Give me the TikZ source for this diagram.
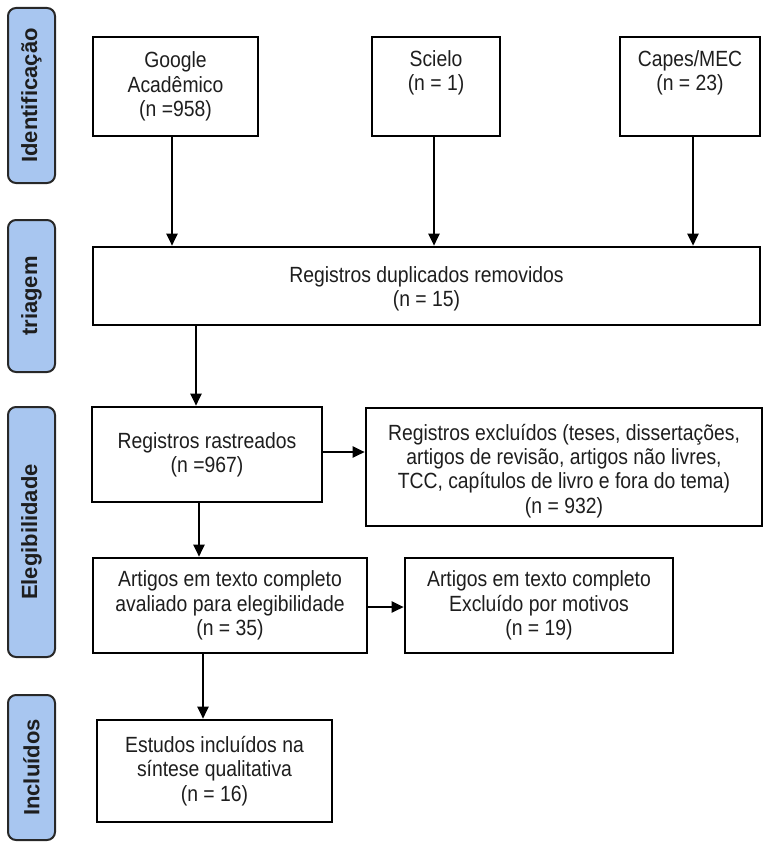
\documentclass[tikz,border=0pt]{standalone}
\usepackage{fontspec}
\setmainfont{Liberation Sans}
\newfontfamily\bodyf{Liberation Sans}[FakeStretch=0.88]
\usetikzlibrary{arrows.meta}
\definecolor{sideblue}{RGB}{168,198,240}
\definecolor{sideline}{RGB}{40,40,40}
\definecolor{txt}{RGB}{30,30,30}
\begin{document}
\begin{tikzpicture}[x=1pt,y=-1pt,
  box/.style={draw=black,line width=2.6pt,fill=white,inner sep=0pt,align=center,text=txt,font=\bodyf\fontsize{22}{24.3}\selectfont},
  side/.style={draw=sideline,line width=2pt,fill=sideblue,rounded corners=8pt,inner sep=0pt,minimum width=47pt,text=txt,font=\bfseries\fontsize{22}{24}\selectfont},
  arr/.style={line width=2.4pt,-{Triangle[length=12pt,width=11pt]}}
]
\useasboundingbox (0,0) rectangle (774,843);
% side labels
\node[side,minimum height=175pt] (s1) at (31.5,95.5) {\rotatebox{90}{Identificação}};
\node[side,minimum height=152pt] (s2) at (31.5,296) {\rotatebox{90}{triagem}};
\node[side,minimum height=250pt] (s3) at (31.5,532) {\rotatebox{90}{Elegibilidade}};
\node[side,minimum height=145pt] (s4) at (31.5,767.5) {\rotatebox{90}{Incluídos}};
% boxes
\node[box,minimum width=165pt,minimum height=99pt] (google) at (175.5,86.5) {Google\\Acadêmico\\(n =958)};
\node[box,minimum width=128pt,minimum height=99pt] (scielo) at (436,86.5) {Scielo\\(n = 1)\\\strut};
\node[box,minimum width=140pt,minimum height=99pt] (capes) at (690,86.5) {Capes/MEC\\(n = 23)\\\strut};
\node[box,minimum width=667pt,minimum height=78pt] (triagem) at (426.5,286) {\rule{0pt}{22pt}Registros duplicados removidos\\(n = 15)};
\node[box,minimum width=230pt,minimum height=95pt] (reg) at (207,454.5) {Registros rastreados\\(n =967)};
\node[box,minimum width=396pt,minimum height=118pt] (excl) at (564,467) {\rule{0pt}{24pt}Registros excluídos (teses, dissertações,\\artigos de revisão, artigos não livres,\\TCC, capítulos de livro e fora do tema)\\(n = 932)};
\node[box,minimum width=274pt,minimum height=95pt] (art) at (230,605.5) {Artigos em texto completo\\avaliado para elegibilidade\\(n = 35)};
\node[box,minimum width=268pt,minimum height=95pt] (artexcl) at (539,605.5) {Artigos em texto completo\\Excluído por motivos\\(n = 19)};
\node[box,minimum width=235pt,minimum height=102pt] (est) at (214.5,771) {Estudos incluídos na\\síntese qualitativa\\(n = 16)};
% arrow guides
\coordinate (xg) at (172,0);
\coordinate (xs) at (434,0);
\coordinate (xc) at (693,0);
\coordinate (xt) at (196,0);
\coordinate (xr) at (199,0);
\coordinate (xa) at (203,0);
\coordinate (yr) at (0,452);
\coordinate (ya) at (0,607);
% arrows
\draw[arr] (google.south -| xg) -- (triagem.north -| xg);
\draw[arr] (scielo.south -| xs) -- (triagem.north -| xs);
\draw[arr] (capes.south -| xc) -- (triagem.north -| xc);
\draw[arr] (triagem.south -| xt) -- (reg.north -| xt);
\draw[arr] (reg.east |- yr) -- (excl.west |- yr);
\draw[arr] (reg.south -| xr) -- (art.north -| xr);
\draw[arr] (art.east |- ya) -- (artexcl.west |- ya);
\draw[arr] (art.south -| xa) -- (est.north -| xa);
\end{tikzpicture}
\end{document}
